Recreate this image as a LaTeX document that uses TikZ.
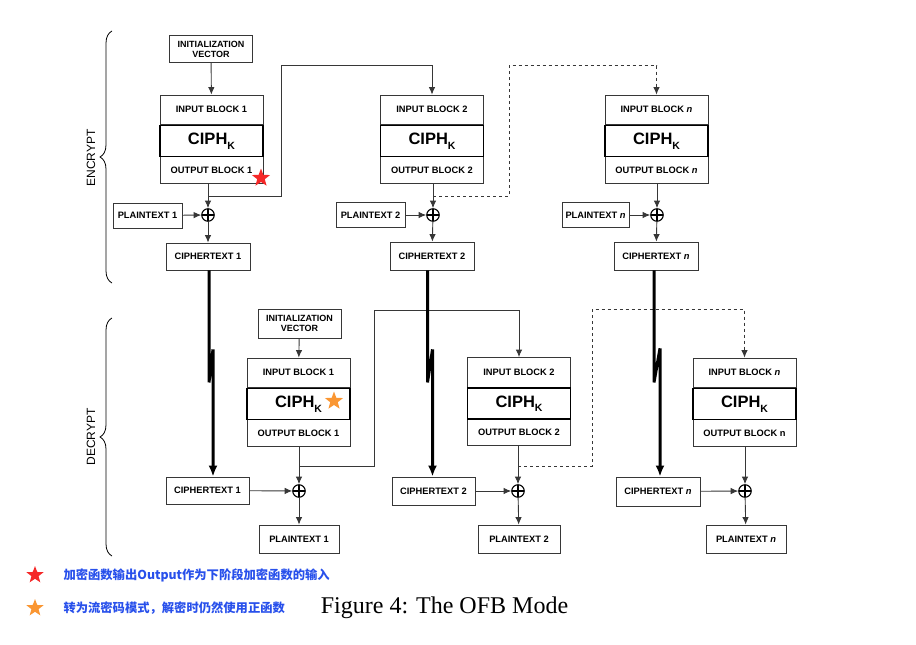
\documentclass[tikz,border=0pt]{standalone}
\usepackage{fontspec}
\setmainfont{Liberation Sans}
\newfontfamily\capserif{Liberation Serif}
\newfontfamily\cjk{Noto Sans CJK SC}
\usetikzlibrary{arrows.meta,positioning,shapes.geometric,decorations.pathreplacing}

\definecolor{linegray}{RGB}{55,55,55}
\definecolor{noteblue}{RGB}{40,80,235}
\definecolor{starred}{RGB}{245,40,40}
\definecolor{starorange}{RGB}{250,150,50}

\newcommand{\ciphk}{CIPH\raisebox{-4.5pt}{\fontsize{10.5}{11}\selectfont K}}

\tikzset{
  blk/.style={draw=linegray, line width=0.8pt, minimum width=103pt, inner sep=0pt,
              font=\bfseries\fontsize{9.3}{10}\selectfont},
  inblk/.style={blk, minimum height=29.5pt},
  outblk/.style={blk, minimum height=27pt},
  ciphblk/.style={blk, draw=black, line width=1.3pt, minimum height=31pt,
                  font=\bfseries\fontsize{16.5}{18}\selectfont},
  txt/.style={draw=linegray, line width=0.8pt, inner sep=0pt, minimum height=26pt,
              font=\bfseries\fontsize{9.3}{10}\selectfont},
  ivbox/.style={txt, align=center, minimum width=83pt, minimum height=27pt,
                font=\bfseries\fontsize{9}{10}\selectfont},
  xor/.style={circle, draw=black, line width=1.1pt, minimum size=12.5pt, inner sep=0pt,
              path picture={\draw[line width=1.1pt]
                (path picture bounding box.north) -- (path picture bounding box.south)
                (path picture bounding box.west) -- (path picture bounding box.east);}},
  wire/.style={draw=linegray, line width=0.9pt},
  feed/.style={wire, dashed},
  ctline/.style={draw=black, line width=3pt, -{Latex[length=11pt,width=9pt]}},
  starshape/.style={star, star points=5, star point ratio=2.4, minimum size=19pt,
                    inner sep=0pt},
  brace/.style={draw=black, line width=0.8pt, decorate, decoration={brace, amplitude=12pt}},
  note/.style={anchor=west, text=noteblue, font=\cjk\bfseries\fontsize{12.3}{14}\selectfont}
}

\begin{document}
\begin{tikzpicture}[x=1pt,y=-1pt,>={Latex[length=7.5pt,width=6.5pt]}]
  \useasboundingbox (0,0) rectangle (916,645);

  % ---- encrypt ----
  \node[ivbox] (ive) at (211,49) {INITIALIZATION\\VECTOR};

  \node[inblk] (ine1) at (211.5,109.75) {INPUT BLOCK 1};
  \node[outblk] (oute1) [below=31pt of ine1] {OUTPUT BLOCK 1};
  \node[ciphblk] (cphe1) [below=0pt of ine1] {\ciphk};

  \node[inblk] (ine2) at (432,109.75) {INPUT BLOCK 2};
  \node[outblk] (oute2) [below=31pt of ine2] {OUTPUT BLOCK 2};
  \node[ciphblk] (cphe2) [below=0pt of ine2] {\ciphk};

  \node[inblk] (inen) at (656.5,109.75) {INPUT BLOCK \textit{n}};
  \node[outblk] (outen) [below=31pt of inen] {OUTPUT BLOCK \textit{n}};
  \node[ciphblk] (cphen) [below=0pt of inen] {\ciphk};

  \node[xor] (xe1) at (208,215) {};
  \node[xor] (xe2) at (433,215) {};
  \node[xor] (xen) at (657,215) {};

  \node[txt, minimum width=69pt, minimum height=25pt] (pte1) at (147.5,215.5) {PLAINTEXT 1};
  \node[txt, minimum width=69pt, minimum height=25pt] (pte2) at (370.5,215) {PLAINTEXT 2};
  \node[txt, minimum width=67pt, minimum height=25pt] (pten) at (595.5,215) {PLAINTEXT \textit{n}};

  \node[txt, minimum width=84pt, minimum height=27pt] (cte1) at (208,256.5) {CIPHERTEXT 1};
  \node[txt, minimum width=84pt, minimum height=28pt] (cte2) at (432,256) {CIPHERTEXT 2};
  \node[txt, minimum width=84pt, minimum height=28pt] (cten) at (656,256) {CIPHERTEXT \textit{n}};

  \draw[wire,->] (ive) -- (ine1);
  \draw[wire,->] (oute1.south -| xe1) -- (xe1);
  \draw[wire,->] (oute2.south -| xe2) -- (xe2);
  \draw[wire,->] (outen.south -| xen) -- (xen);
  \draw[wire,->] (pte1) -- (xe1);
  \draw[wire,->] (pte2) -- (xe2);
  \draw[wire,->] (pten) -- (xen);
  \draw[wire,->] (xe1) -- (cte1);
  \draw[wire,->] (xe2) -- (cte2);
  \draw[wire,->] (xen) -- (cten);
  \draw[wire,->] ([yshift=-13pt]oute1.south -| xe1) -- ++(73,0) -- ++(0,-131) -| (ine2.north);
  \draw[feed] ([yshift=-12.5pt]oute2.south -| xe2) -- ++(76,0) -- ++(0,-130.5) -| ([yshift=6pt]inen.north);
  \draw[wire,->] ([yshift=6pt]inen.north) -- (inen.north);

  \node[starshape, fill=starred] (stre) at (261,178) {};

  % ---- decrypt ----
  \node[ivbox, minimum height=29pt] (ivd) at (299.5,323.5) {INITIALIZATION\\VECTOR};

  \node[inblk] (ind1) at (298.5,372.75) {INPUT BLOCK 1};
  \node[outblk] (outd1) [below=31pt of ind1] {OUTPUT BLOCK 1};
  \node[ciphblk] (cphd1) [below=0pt of ind1] {\ciphk};

  \node[inblk] (ind2) at (519,372.25) {INPUT BLOCK 2};
  \node[outblk] (outd2) [below=31pt of ind2] {OUTPUT BLOCK 2};
  \node[ciphblk] (cphd2) [below=0pt of ind2] {\ciphk};

  \node[inblk] (indn) at (744.5,372.75) {INPUT BLOCK \textit{n}};
  \node[outblk] (outdn) [below=31pt of indn] {OUTPUT BLOCK n};
  \node[ciphblk] (cphdn) [below=0pt of indn] {\ciphk};

  \node[xor] (xd1) at (299,491) {};
  \node[xor] (xd2) at (518,491) {};
  \node[xor] (xdn) at (745,491) {};

  \node[txt, minimum width=83pt, minimum height=27pt] (ctd1) at (207.5,490.5) {CIPHERTEXT 1};
  \node[txt, minimum width=83pt, minimum height=28pt] (ctd2) at (433.5,491) {CIPHERTEXT 2};
  \node[txt, minimum width=84pt, minimum height=29pt] (ctdn) at (658,491.5) {CIPHERTEXT \textit{n}};

  \node[txt, minimum width=80pt, minimum height=28pt] (ptd1) at (299,539) {PLAINTEXT 1};
  \node[txt, minimum width=82pt, minimum height=28pt] (ptd2) at (519,539) {PLAINTEXT 2};
  \node[txt, minimum width=80pt, minimum height=28pt] (ptdn) at (746,539) {PLAINTEXT \textit{n}};

  \draw[wire,->] (ivd) -- (ind1);
  \draw[wire,->] (outd1.south -| xd1) -- (xd1);
  \draw[wire,->] (outd2.south -| xd2) -- (xd2);
  \draw[wire,->] (outdn.south -| xdn) -- (xdn);
  \draw[wire,->] (ctd1) -- (xd1);
  \draw[wire,->] (ctd2) -- (xd2);
  \draw[wire,->] (ctdn) -- (xdn);
  \draw[wire,->] (xd1) -- (ptd1);
  \draw[wire,->] (xd2) -- (ptd2);
  \draw[wire,->] (xdn) -- (ptdn);
  \draw[wire,->] ([yshift=-20pt]outd1.south -| xd1) -- ++(75,0) -- ++(0,-156.5) -| (ind2.north);
  \draw[feed] ([yshift=-20pt]outd2.south -| xd2) -- ++(74,0) -- ++(0,-156.5) -| ([yshift=6pt]indn.north);
  \draw[wire,->] ([yshift=6pt]indn.north) -- (indn.north);

  % ciphertext carried down, with break marks
  \draw[ctline] ([xshift=1pt]cte1.south) -- ++(0,112) -- ++(4,-33) -- ([xshift=5.5pt]ctd1.north);
  \draw[ctline] ([xshift=-4.5pt]cte2.south) -- ++(0,112) -- ++(5,-33) -- ([xshift=-1pt]ctd2.north);
  \draw[ctline] ([xshift=-2pt]cten.south) -- ++(0,112) -- ++(6,-34) -- ([xshift=2pt]ctdn.north);

  \node[starshape, fill=starorange] (strd) at (334,401) {};

  % ---- braces ----
  \draw[brace] (112,283) -- (112,31);
  \draw[brace] (112,556) -- (112,318);
  \node[rotate=90, font=\fontsize{12}{14}\selectfont] (enc) at (91,158) {ENCRYPT};
  \node[rotate=90, font=\fontsize{12}{14}\selectfont] (dec) at (91,437) {DECRYPT};

  % ---- notes ----
  \node[starshape, fill=starred, minimum size=18pt] (lgr) at (35,575) {};
  \node[starshape, fill=starorange, minimum size=18pt] (lgo) at (35,608) {};
  \node[note] (nte1) at (60,575) {加密函数输出Output作为下阶段加密函数的输入};
  \node[note] (nte2) at (60,608) {转为流密码模式，解密时仍然使用正函数};
  \node[font=\capserif\fontsize{24}{28}\selectfont] (cap) at (444.5,608) {Figure 4: The OFB Mode};
\end{tikzpicture}
\end{document}
